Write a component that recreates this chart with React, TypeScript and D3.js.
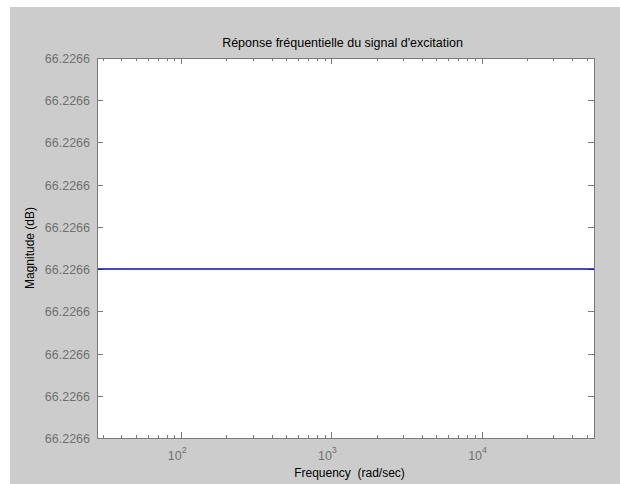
import React, { useEffect, useRef } from 'react'
import * as d3 from 'd3'

// frequency response data (rad/sec, dB) - the magnitude is flat
const frequencies = [27.5, 100, 1000, 10000, 56000]
const magnitudes = [66.226595, 66.226595, 66.226595, 66.226595, 66.226595]

const yTicks = [66.226555, 66.226565, 66.226575, 66.226585, 66.226595,
  66.226605, 66.226615, 66.226625, 66.226635, 66.226645]
const xMajor = [100, 1000, 10000]
const xMinor = [30, 40, 50, 60, 70, 80, 90,
  200, 300, 400, 500, 600, 700, 800, 900,
  2000, 3000, 4000, 5000, 6000, 7000, 8000, 9000,
  20000, 30000, 40000, 50000]

const titleText = "Réponse fréquentielle du signal d'excitation"
const xLabel = 'Frequency  (rad/sec)'
const yLabel = 'Magnitude (dB)'

const W = 620
const H = 484
const margin = { top: 58, right: 26, bottom: 46, left: 97 }

function App() {
  const ref = useRef<SVGSVGElement>(null)

  useEffect(() => {
    const svg = d3.select(ref.current)
    svg.selectAll('*').remove()

    const x0 = margin.left, x1 = W - margin.right
    const y0 = margin.top, y1 = H - margin.bottom

    const x = d3.scaleLog().domain([27.5, 56000]).range([x0, x1])
    const y = d3.scaleLinear().domain([66.226555, 66.226645]).range([y1, y0])

    const font = 'Liberation Sans, Arial, sans-serif'
    const axisCol = '#7a7a7a'
    const labelCol = '#707070'

    // figure background
    svg.append('rect').attr('x', 10).attr('y', 7).attr('width', W - 10).attr('height', H - 7)
      .attr('fill', '#cccccc')
    svg.append('rect').attr('x', x0).attr('y', y0).attr('width', x1 - x0).attr('height', y1 - y0)
      .attr('fill', '#ffffff')

    const g = svg.append('g')

    // x ticks, bottom and top, pointing inward
    const drawX = (vals: number[], len: number) => {
      vals.forEach(v => {
        const px = Math.round(x(v)) + 0.5
        g.append('line').attr('x1', px).attr('x2', px).attr('y1', y1).attr('y2', y1 - len)
          .attr('stroke', axisCol)
        g.append('line').attr('x1', px).attr('x2', px).attr('y1', y0).attr('y2', y0 + len)
          .attr('stroke', axisCol)
      })
    }
    drawX(xMinor, 3)
    drawX(xMajor, 6)

    // y ticks, left and right
    yTicks.forEach(v => {
      const py = Math.round(y(v)) + 0.5
      g.append('line').attr('x1', x0).attr('x2', x0 + 6).attr('y1', py).attr('y2', py)
        .attr('stroke', axisCol)
      g.append('line').attr('x1', x1).attr('x2', x1 - 6).attr('y1', py).attr('y2', py)
        .attr('stroke', axisCol)
      g.append('text').attr('x', x0 - 7).attr('y', py).attr('dy', '0.35em')
        .attr('text-anchor', 'end').attr('font-family', font).attr('font-size', 12.5)
        .attr('fill', labelCol).text(v.toFixed(4))
    })

    // x major labels 10^n
    xMajor.forEach(v => {
      const t = g.append('text').attr('x', x(v) - 4).attr('y', y1 + 22)
        .attr('text-anchor', 'middle').attr('font-family', font).attr('font-size', 12.5)
        .attr('fill', labelCol)
      t.append('tspan').text('10')
      t.append('tspan').attr('dy', -7).attr('font-size', 9).text(String(Math.round(Math.log10(v))))
    })

    // data line
    const line = d3.line<number>()
      .x((d, i) => x(frequencies[i]))
      .y(d => y(d))
    g.append('path').datum(magnitudes).attr('d', line).attr('fill', 'none')
      .attr('stroke', '#0a0ab8').attr('stroke-width', 1.5)

    // box
    g.append('rect').attr('x', x0 + 0.5).attr('y', y0 + 0.5).attr('width', x1 - x0)
      .attr('height', y1 - y0).attr('fill', 'none').attr('stroke', axisCol)

    // title and axis labels
    svg.append('text').attr('x', (x0 + x1) / 2 - 3).attr('y', 47).attr('text-anchor', 'middle')
      .attr('font-family', font).attr('font-size', 12.5).attr('fill', '#000')
      .text(titleText)
    svg.append('text').attr('x', (x0 + x1) / 2 + 4).attr('y', 477).attr('text-anchor', 'middle')
      .attr('font-family', font).attr('font-size', 12).attr('fill', '#000')
      .style('white-space', 'pre').text(xLabel)
    svg.append('text').attr('transform', `translate(34,${(y0 + y1) / 2}) rotate(-90)`)
      .attr('text-anchor', 'middle').attr('font-family', font).attr('font-size', 12)
      .attr('fill', '#000').text(yLabel)
  }, [])

  return (
    <svg ref={ref} width={W} height={H}
      style={{ position: 'absolute', left: 0, top: 0, background: '#fff' }} />
  )
}

export default App
